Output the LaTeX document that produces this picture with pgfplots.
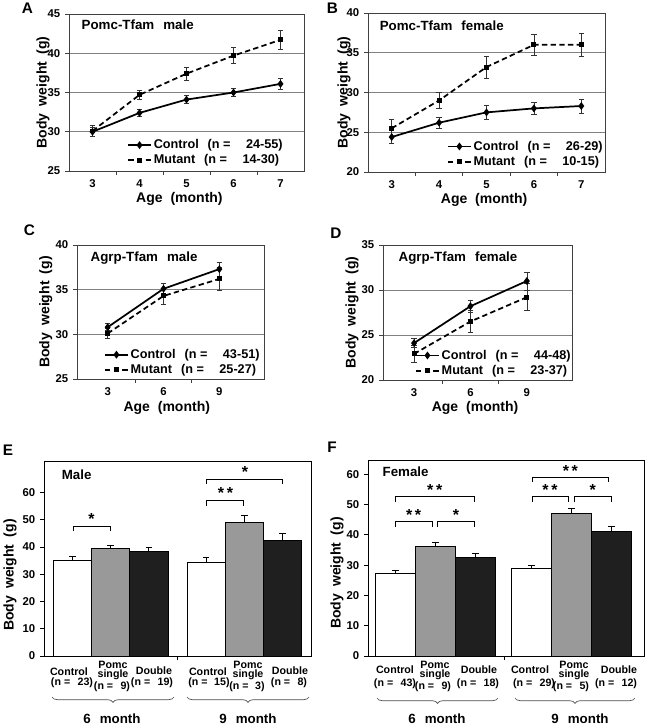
\documentclass[border=0pt]{standalone}
\usepackage{fontspec}
\setmainfont{Liberation Sans}
\usepackage{pgfplots}
\pgfplotsset{compat=1.18}
\usetikzlibrary{decorations.pathreplacing}
\pgfplotsset{
 common/.style={scale only axis, anchor=north west, clip=false,
   /pgf/number format/assume math mode=true,
   tick align=outside, xtick pos=left, ytick pos=left,
   major tick length=3pt, minor tick length=3pt,
   tick label style={font=\bfseries\fontsize{8.5}{10}\selectfont},
   label style={font=\bfseries\fontsize{10.5}{12}\selectfont},
   xlabel={Age\hspace{3pt} (month)},
   ylabel={Body\hspace{2.5pt} weight\hspace{2.5pt} (g)},
   ylabel style={anchor=center}, xlabel style={anchor=center}},
 lineax/.style={common,
   axis line style={black!75, line width=0.6pt},
   tick style={black!75, line width=0.6pt},
   major x tick style={draw=none},
   ymajorgrids, grid style={black!50, line width=0.5pt},
   legend style={draw=none, fill=none, inner sep=0pt, row sep=0pt,
     nodes={inner sep=1.5pt},
     font=\bfseries\fontsize{9.5}{11}\selectfont},
   legend cell align=left},
 barax/.style={common, ymin=0,
   axis line style={black, line width=0.6pt},
   tick style={black, line width=0.6pt},
   xtick={3.5}, xticklabels={}, ytick={0,10,...,60}},
 ctrl/.style={black, line width=1.3pt, mark=diamond*, mark size=1.9pt, mark options={solid},
   error bars/y dir=both, error bars/y explicit,
   error bars/error bar style={black!80, line width=0.5pt, solid},
   error bars/error mark options={rotate=90, mark size=2pt, black!80, line width=0.5pt, solid}},
 mut/.style={black, line width=1.3pt, dash pattern=on 4pt off 2.5pt, mark=square*, mark size=1.2pt, mark options={solid},
   error bars/y dir=both, error bars/y explicit,
   error bars/error bar style={black!80, line width=0.5pt, solid},
   error bars/error mark options={rotate=90, mark size=2pt, black!80, line width=0.5pt, solid}},
 bars/.style={ybar, bar width=1, bar shift=0pt, draw=black, line width=0.5pt,
   error bars/y dir=plus, error bars/y explicit,
   error bars/error bar style={black, line width=0.6pt},
   error bars/error mark options={rotate=90, mark size=2.5pt, black, line width=0.6pt}},
 brk/.style={black, line width=0.6pt, mark=none, forget plot},
}
\newcommand{\ttl}{\bfseries\fontsize{10}{11}\selectfont}
\newcommand{\stf}{\bfseries\fontsize{12}{12}\selectfont}
\begin{document}
\begin{tikzpicture}
\path[use as bounding box] (0,0) rectangle (483pt,-543.75pt);
% ---------- A ----------
\begin{axis}[lineax, at={(51.75pt,-10.5pt)}, width=176.25pt, height=117.75pt,
  xmin=2.5, xmax=7.5, ymin=25, ymax=45, ytick={25,30,35,40,45},
  xtick={3,4,5,6,7}, minor xtick={3.5,4.5,5.5,6.5},
  xlabel style={at={(axis description cs:0.47,-0.178)}},
  ylabel style={at={(axis description cs:-0.111,0.5)}},
  legend style={at={(0.247,0.215)}, anchor=north west}]
\addplot[ctrl] coordinates {(3,30.0) +- (0,0.6) (4,32.4) +- (0,0.4) (5,34.1) +- (0,0.5) (6,35.0) +- (0,0.5) (7,36.1) +- (0,0.7)};
\addlegendentry{Control\hspace{4pt} (n =\hspace{9pt} 24-55)}
\addplot[mut] coordinates {(3,30.1) +- (0,0.7) (4,34.7) +- (0,0.6) (5,37.4) +- (0,0.8) (6,39.7) +- (0,1.0) (7,41.7) +- (0,1.25)};
\addlegendentry{Mutant\hspace{4pt} (n =\hspace{9pt} 14-30)}
\node[anchor=west, font=\ttl] at (axis description cs:0.034,0.93) {Pomc-Tfam\hspace{4pt} male};
\end{axis}
% ---------- B ----------
\begin{axis}[lineax, at={(276pt,-9.75pt)}, width=177.75pt, height=119.25pt,
  xmin=2.5, xmax=7.5, ymin=20, ymax=40, ytick={20,25,30,35,40},
  xtick={3,4,5,6,7}, minor xtick={3.5,4.5,5.5,6.5},
  xlabel style={at={(axis description cs:0.49,-0.176)}},
  ylabel style={at={(axis description cs:-0.101,0.5)}},
  legend style={at={(0.333,0.21)}, anchor=north west}]
\addplot[ctrl] coordinates {(3,24.4) +- (0,0.8) (4,26.2) +- (0,0.7) (5,27.5) +- (0,0.9) (6,28.0) +- (0,0.8) (7,28.3) +- (0,0.9)};
\addlegendentry{Control\hspace{4pt} (n =\hspace{9pt} 26-29)}
\addplot[mut] coordinates {(3,25.5) +- (0,1.1) (4,29.0) +- (0,1.0) (5,33.2) +- (0,1.4) (6,36.0) +- (0,1.3) (7,36.0) +- (0,1.5)};
\addlegendentry{Mutant\hspace{4pt} (n =\hspace{9pt} 10-15)}
\node[anchor=west, font=\ttl] at (axis description cs:0.03,0.918) {Pomc-Tfam\hspace{4pt} female};
\end{axis}
% ---------- C ----------
\begin{axis}[lineax, at={(57.75pt,-183.75pt)}, width=140.25pt, height=100.5pt,
  xmin=0.45, xmax=3.8, ymin=25, ymax=40, ytick={25,30,35,40},
  xtick={1,2,3}, xticklabels={3,6,9}, minor xtick={1.5,2.5},
  xlabel style={at={(axis description cs:0.48,-0.216)}},
  ylabel style={at={(axis description cs:-0.167,0.5)}},
  legend style={at={(0.144,0.24)}, anchor=north west}]
\addplot[ctrl] coordinates {(1,30.8) +- (0,0.4) (2,35.1) +- (0,0.6) (3,37.3) +- (0,0.8)};
\addlegendentry{Control\hspace{4pt} (n =\hspace{9pt} 43-51)}
\addplot[mut] coordinates {(1,30.1) +- (0,0.6) (2,34.3) +- (0,0.9) (3,36.2) +- (0,1.3)};
\addlegendentry{Mutant\hspace{4pt} (n =\hspace{9pt} 25-27)}
\node[anchor=west, font=\ttl] at (axis description cs:0.048,0.903) {Agrp-Tfam\hspace{4pt} male};
\end{axis}
% ---------- D ----------
\begin{axis}[lineax, at={(287.25pt,-183.75pt)}, width=141.75pt, height=101.25pt,
  xmin=0.45, xmax=3.8, ymin=20, ymax=35, ytick={20,25,30,35},
  xtick={1,2,3}, xticklabels={3,6,9}, minor xtick={1.5,2.5},
  xlabel style={at={(axis description cs:0.487,-0.207)}},
  ylabel style={at={(axis description cs:-0.164,0.5)}},
  legend style={at={(0.169,0.24)}, anchor=north west}]
\addplot[ctrl] coordinates {(1,24.1) +- (0,0.5) (2,28.2) +- (0,0.7) (3,31.0) +- (0,1.0)};
\addlegendentry{Control\hspace{4pt} (n =\hspace{9pt} 44-48)}
\addplot[mut] coordinates {(1,22.9) +- (0,0.9) (2,26.5) +- (0,1.2) (3,29.2) +- (0,1.5)};
\addlegendentry{Mutant\hspace{4pt} (n =\hspace{9pt} 23-37)}
\node[anchor=west, font=\ttl] at (axis description cs:0.058,0.904) {Agrp-Tfam\hspace{4pt} female};
\end{axis}
% ---------- E ----------
\begin{axis}[barax, at={(33pt,-345.75pt)}, width=200.25pt, height=146.25pt,
  xmin=0, xmax=7, ymax=71.5, xlabel={},
  ylabel style={at={(axis description cs:-0.127,0.415)}}]
\addplot[bars, fill=white] coordinates {(0.75,35.2) +- (0,1.3) (4.25,34.3) +- (0,1.8)};
\addplot[bars, fill=black!40] coordinates {(1.75,39.4) +- (0,1.2) (5.25,49.0) +- (0,2.5)};
\addplot[bars, fill=black!88] coordinates {(2.75,38.4) +- (0,1.4) (6.25,42.3) +- (0,2.8)};
\addplot[brk] coordinates {(0.76,45.9) (0.76,47.7) (1.73,47.7) (1.73,45.9)};
\addplot[brk] coordinates {(4.27,55.1) (4.27,57.2) (5.24,57.2) (5.24,55.1)};
\addplot[brk] coordinates {(4.27,63.2) (4.27,64.9) (6.26,64.9) (6.26,63.2)};
\node[anchor=base, font=\stf] at (axis cs:1.245,48.2) {*};
\node[anchor=base, font=\stf] at (axis cs:4.76,57.7) {*\,*};
\node[anchor=base, font=\stf] at (axis cs:5.27,65.4) {*};
\node[anchor=west, font=\ttl] at (axis description cs:0.049,0.928) {Male};
\end{axis}
% ---------- F ----------
\begin{axis}[barax, at={(276pt,-345pt)}, width=207pt, height=147pt,
  xmin=0, xmax=6.9, ymax=64.7, xtick={3.4}, xlabel={},
  ylabel style={at={(axis description cs:-0.112,0.423)}}]
\addplot[bars, fill=white] coordinates {(0.69,27.2) +- (0,1.2) (4.08,28.8) +- (0,1.1)};
\addplot[bars, fill=black!40] coordinates {(1.69,36.2) +- (0,1.3) (5.08,47.0) +- (0,1.7)};
\addplot[bars, fill=black!88] coordinates {(2.69,32.6) +- (0,1.2) (6.08,41.1) +- (0,1.7)};
\addplot[brk] coordinates {(0.675,50.9) (0.675,52.6) (2.67,52.6) (2.67,50.9)};
\addplot[brk] coordinates {(0.675,42.7) (0.675,44.3) (1.61,44.3) (1.61,42.7)};
\addplot[brk] coordinates {(1.74,42.7) (1.74,44.3) (2.67,44.3) (2.67,42.7)};
\addplot[brk] coordinates {(4.1,57.3) (4.1,58.8) (6.02,58.8) (6.02,57.3)};
\addplot[brk] coordinates {(4.1,50.9) (4.1,52.6) (5.0,52.6) (5.0,50.9)};
\addplot[brk] coordinates {(5.15,50.9) (5.15,52.6) (6.09,52.6) (6.09,50.9)};
\node[anchor=base, font=\stf] at (axis cs:1.67,53.1) {*\,*};
\node[anchor=base, font=\stf] at (axis cs:1.14,44.8) {*\,*};
\node[anchor=base, font=\stf] at (axis cs:2.2,44.8) {*};
\node[anchor=base, font=\stf] at (axis cs:5.06,59.3) {*\,*};
\node[anchor=base, font=\stf] at (axis cs:4.55,53.1) {*\,*};
\node[anchor=base, font=\stf] at (axis cs:5.62,53.1) {*};
\node[anchor=west, font=\ttl] at (axis description cs:0.036,0.939) {Female};
\end{axis}
% ---------- annotations in pixel units ----------
\begin{scope}[x=0.75pt, y=-0.75pt, font=\bfseries\fontsize{8}{9}\selectfont, every node/.append style={inner sep=0.3pt}]
\foreach \L/\X/\Y in {A/27.5/8, B/332.5/8, C/29.5/230.5, D/336/233.5, E/8/450, F/332/447.5}
  \node[font=\bfseries\fontsize{11.5}{12}\selectfont] at (\X,\Y) {\L};
% E labels
\node at (69,672) {Control};
\node at (72,683) {(n =\hspace{5.5pt}23)};
\node[align=center, font=\bfseries\fontsize{8}{6.8}\selectfont] at (113,670.5) {Pomc\\single};
\node at (112,687) {(n =\hspace{5.5pt}9)};
\node at (154,671) {Double};
\node at (152,683) {(n =\hspace{5.5pt}19)};
\node at (208,672) {Control};
\node at (209,683) {(n =\hspace{5pt}15)};
\node[align=center, font=\bfseries\fontsize{8}{6.8}\selectfont] at (248,670.5) {Pomc\\single};
\node at (247,687) {(n =\hspace{5pt}3)};
\node at (290,671) {Double};
\node at (289,683) {(n =\hspace{5.5pt}8)};
\draw[black!70, line width=0.5pt, decorate, decoration={brace, mirror, amplitude=4pt}] (52,697) -- (174,697);
\draw[black!70, line width=0.5pt, decorate, decoration={brace, mirror, amplitude=4pt}] (187,697) -- (309,697);
\node[font=\bfseries\fontsize{10}{12}\selectfont] at (112,719) {6\hspace{4pt} month};
\node[font=\bfseries\fontsize{10}{12}\selectfont] at (248,719) {9\hspace{4pt} month};
% F labels
\node at (395,670) {Control};
\node at (395,684) {(n =\hspace{5.5pt}43)};
\node[align=center, font=\bfseries\fontsize{8}{6.8}\selectfont] at (435,670.5) {Pomc\\single};
\node at (433,687) {(n =\hspace{5.5pt}9)};
\node at (479,670) {Double};
\node at (478,684) {(n =\hspace{5.5pt}18)};
\node at (530,670) {Control};
\node at (534,684) {(n =\hspace{5.5pt}29)};
\node[align=center, font=\bfseries\fontsize{8}{6.8}\selectfont] at (574,670.5) {Pomc\\single};
\node at (571,687) {(n =\hspace{5.5pt}5)};
\node at (619,670) {Double};
\node at (616,684) {(n =\hspace{5.5pt}12)};
\draw[black!70, line width=0.5pt, decorate, decoration={brace, mirror, amplitude=4pt}] (377,698) -- (498,698);
\draw[black!70, line width=0.5pt, decorate, decoration={brace, mirror, amplitude=4pt}] (515,698) -- (635,698);
\node[font=\bfseries\fontsize{10}{12}\selectfont] at (437,719) {6\hspace{4pt} month};
\node[font=\bfseries\fontsize{10}{12}\selectfont] at (580,719) {9\hspace{4pt} month};
\end{scope}
\end{tikzpicture}
\end{document}
